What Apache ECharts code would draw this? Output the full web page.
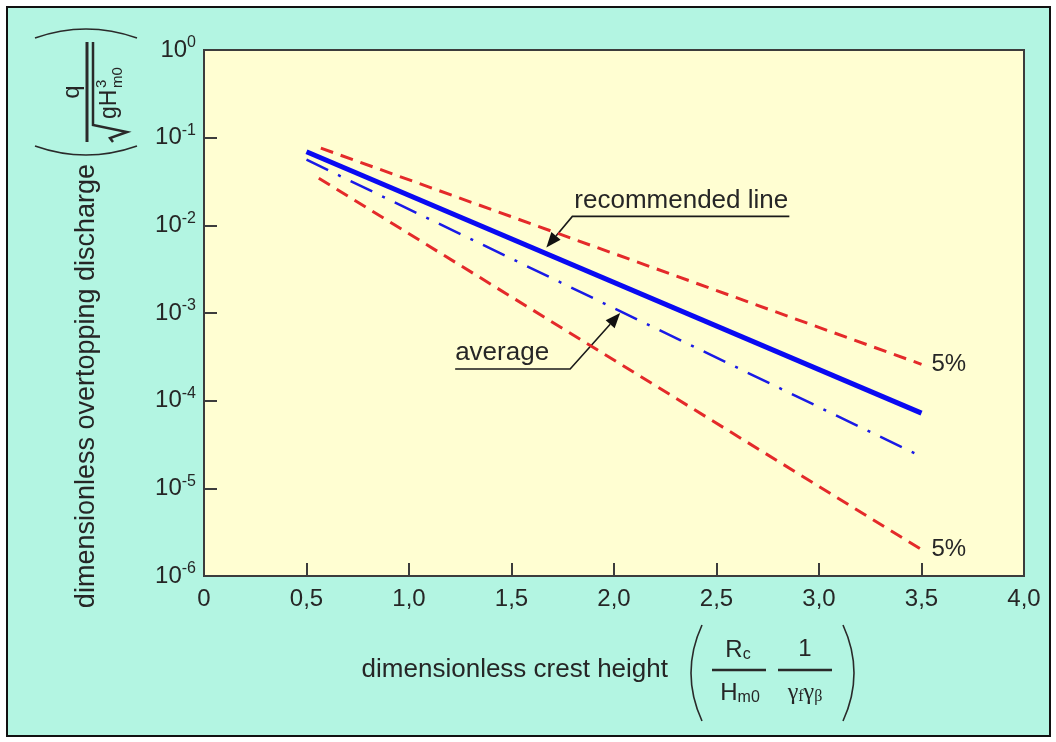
<!DOCTYPE html>
<html>
<head>
<meta charset="utf-8">
<title>overtopping discharge</title>
<script src="https://cdn.jsdelivr.net/npm/echarts@6/dist/echarts.min.js"></script>
<style>
body{margin:0;background:#fff;}
#frame{position:absolute;left:6px;top:6px;width:1041px;height:727px;border:2px solid #111;background:#b3f5e2;}
#main{position:absolute;left:0;top:0;width:1056px;height:742px;}
</style>
</head>
<body>
<div id="frame"></div>
<div id="main"></div>
<script>
var xTicks = [0, 0.5, 1, 1.5, 2, 2.5, 3, 3.5, 4];
var xTickLabels = ['0', '0,5', '1,0', '1,5', '2,0', '2,5', '3,0', '3,5', '4,0'];

// straight lines on the log axis -> end points
var recX = [0.5, 3.5];
var recY = [0.069, 7.2e-5];
var avgX = [0.5, 3.5];
var avgY = [0.056, 2.3e-5];
var upX = [0.57, 3.5];
var upY = [0.076, 2.6e-4];
var lowX = [0.56, 3.5];
var lowY = [0.0345, 2.0e-6];

// where the annotation arrows point
var recTip = [1.67, 0.0056];
var avgTip = [2.03, 0.001];

var font = '"Liberation Sans", Arial, sans-serif';
var serif = '"Liberation Serif", serif';
var ink = '#262626';

function pts(xs, ys) {
    return xs.map(function(x, i) { return [x, ys[i]]; });
}

var chart = echarts.init(document.getElementById('main'));
var option = {
    animation: false,
    backgroundColor: 'transparent',
    grid: {left: 204, top: 50, right: 32, bottom: 166, show: true,
        backgroundColor: '#fffed2', borderColor: '#3c3c3c', borderWidth: 2},
    xAxis: {
        type: 'value', min: 0, max: 4, interval: 0.5,
        axisLine: {onZero: false, lineStyle: {color: '#3c3c3c', width: 2}},
        axisTick: {inside: true, length: 13, lineStyle: {color: '#3c3c3c', width: 2}},
        splitLine: {show: false},
        axisLabel: {
            margin: 11, color: ink, fontSize: 24, fontFamily: font,
            formatter: function(v) {
                var i = xTicks.indexOf(v);
                return i >= 0 ? xTickLabels[i] : '';
            }
        }
    },
    yAxis: {
        type: 'log', logBase: 10, min: 1e-6, max: 1, splitNumber: 6,
        axisLine: {lineStyle: {color: '#3c3c3c', width: 2}},
        axisTick: {inside: true, length: 13, lineStyle: {color: '#3c3c3c', width: 2}},
        splitLine: {show: false},
        axisLabel: {
            margin: 8,
            formatter: function(v) {
                return '{b|10}{s|' + Math.round(Math.log10(v)) + '}';
            },
            rich: {
                b: {fontSize: 24, fontFamily: font, color: ink},
                s: {fontSize: 16, fontFamily: font, color: ink, padding: [0, 0, 14, 0]}
            }
        }
    },
    series: [
        {
            type: 'line', data: pts(upX, upY), symbol: 'none', silent: true,
            lineStyle: {color: '#e42a2a', width: 3, type: [13, 8]},
            endLabel: {show: true, formatter: '5%', distance: 10, fontSize: 24, fontFamily: font, color: ink}
        },
        {
            type: 'line', data: pts(lowX, lowY), symbol: 'none', silent: true,
            lineStyle: {color: '#e42a2a', width: 3, type: [13, 8]},
            endLabel: {show: true, formatter: '5%', distance: 10, fontSize: 24, fontFamily: font, color: ink}
        },
        {
            type: 'line', data: pts(avgX, avgY), symbol: 'none', silent: true,
            lineStyle: {color: '#1a1ae6', width: 2.5, type: [24, 11, 3, 11]}
        },
        {
            type: 'line', data: pts(recX, recY), symbol: 'none', silent: true,
            lineStyle: {color: '#0a0af2', width: 5}
        }
    ]
};
chart.setOption(option);

// arrow head + leader + underlined text
function note(tip, from, lineEnd, label, textLeft) {
    var dx = tip[0] - from[0], dy = tip[1] - from[1];
    var len = Math.sqrt(dx * dx + dy * dy);
    var ux = dx / len, uy = dy / len;
    var bx = tip[0] - 15 * ux, by = tip[1] - 15 * uy;
    return [
        {type: 'polyline', shape: {points: [lineEnd, from, [bx, by]]},
            style: {stroke: '#1a1a1a', lineWidth: 1.6, fill: null}},
        {type: 'polygon', shape: {points: [tip, [bx - 6 * uy, by + 6 * ux], [bx + 6 * uy, by - 6 * ux]]},
            style: {fill: '#111'}},
        {type: 'text', x: textLeft, y: from[1] - 3,
            style: {text: label, fontSize: 26, fontFamily: font, fill: ink,
                align: 'left', verticalAlign: 'bottom', textAlign: 'left', textVerticalAlign: 'bottom'}}
    ];
}

var rt = chart.convertToPixel({gridIndex: 0}, recTip);
var at = chart.convertToPixel({gridIndex: 0}, avgTip);
var recFrom = [rt[0] + 26, rt[1] - 31];
var avgFrom = [at[0] - 50, at[1] + 56];

var txt = function(o) {
    o.style.fontFamily = o.style.fontFamily || font;
    o.style.fill = o.style.fill || ink;
    o.style.align = o.style.textAlign = o.style.align || 'center';
    o.style.verticalAlign = o.style.textVerticalAlign = 'middle';
    o.type = 'text';
    return o;
};
// round bracket as a quadratic curve
var paren = function(x1, y1, cx, cy, x2, y2) {
    return {type: 'bezierCurve', shape: {x1: x1, y1: y1, x2: x2, y2: y2, cpx1: cx, cpy1: cy},
        style: {stroke: '#2a2a2a', lineWidth: 1.6, fill: null}};
};
var stroke = {stroke: '#2a2a2a', lineWidth: 2.5, fill: null};

var graphic = []
    .concat(note(rt, recFrom, [recFrom[0] + 217, recFrom[1]], 'recommended line', recFrom[0] + 2))
    .concat(note(at, avgFrom, [avgFrom[0] - 115, avgFrom[1]], 'average', avgFrom[0] - 115));

// y axis title
graphic.push(txt({x: 87, y: 386, rotation: Math.PI / 2,
    style: {text: 'dimensionless overtopping discharge', fontSize: 27}}));
graphic.push({
    type: 'group', x: 87, y: 92, rotation: Math.PI / 2,
    children: [
        paren(-54, -52, -72, -1, -54, 50),
        paren(54, -52, 72, -1, 54, 50),
        {type: 'line', shape: {x1: -50, y1: 0, x2: 50, y2: 0}, style: {stroke: '#2a2a2a', lineWidth: 3}},
        txt({x: 0, y: -15, style: {text: 'q', fontSize: 24}}),
        {type: 'polyline', shape: {points: [[-50, 26], [-46, 23], [-40, 40], [-33, 6], [50, 6]]},
            style: {stroke: '#2a2a2a', lineWidth: 2.5, fill: null}},
        txt({x: -27, y: 23, style: {text: 'gH', fontSize: 23, align: 'left'}}),
        txt({x: 4, y: 15, style: {text: '3', fontSize: 15, align: 'left'}}),
        txt({x: 4, y: 31, style: {text: 'm0', fontSize: 15, align: 'left'}})
    ]
});

// x axis title
graphic.push(txt({x: 668, y: 670, style: {text: 'dimensionless crest height', fontSize: 26, align: 'right'}}));
graphic.push(paren(702, 625, 680, 673, 702, 721));
graphic.push(paren(843, 625, 865, 673, 843, 721));
graphic.push({type: 'line', shape: {x1: 712, y1: 670, x2: 766, y2: 670}, style: stroke});
graphic.push({type: 'line', shape: {x1: 778, y1: 670, x2: 832, y2: 670}, style: stroke});
graphic.push(txt({x: 738, y: 650, style: {text: '{a|R}{b|c}',
    rich: {a: {fontSize: 24, fontFamily: font, fill: ink}, b: {fontSize: 16, fontFamily: font, fill: ink, padding: [10, 0, 0, 0]}}}}));
graphic.push(txt({x: 740, y: 693, style: {text: '{a|H}{b|m0}',
    rich: {a: {fontSize: 24, fontFamily: font, fill: ink}, b: {fontSize: 16, fontFamily: font, fill: ink, padding: [10, 0, 0, 0]}}}}));
graphic.push(txt({x: 805, y: 649, style: {text: '1', fontSize: 24}}));
graphic.push(txt({x: 805, y: 693, style: {text: '{g|γ}{s|f}{g|γ}{s|β}',
    rich: {g: {fontSize: 24, fontFamily: serif, fill: ink},
        s: {fontSize: 16, fontFamily: serif, fill: ink, padding: [8, 0, 0, 0]}}}}));

chart.setOption({graphic: graphic});
</script>
</body>
</html>
